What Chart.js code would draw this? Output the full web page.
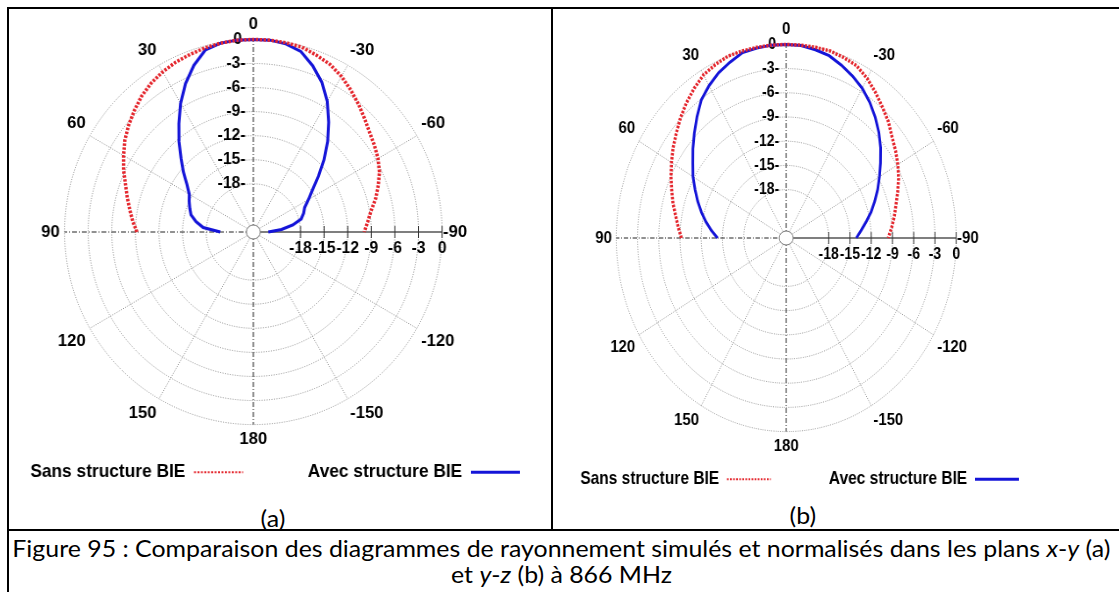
<!DOCTYPE html>
<html lang="fr">
<head>
<meta charset="utf-8">
<title>Figure 95</title>
<script src="https://cdn.jsdelivr.net/npm/chart.js@4.4.1/dist/chart.umd.min.js"></script>
<style>
  html, body { margin: 0; padding: 0; background: #fff; }
  #page { position: relative; width: 1119px; height: 592px; overflow: hidden; background: #fff; }
  .plot { position: absolute; transform-origin: 0 0; }
  .rule { position: absolute; background: #000; z-index: 2; }
  .txt { position: absolute; text-align: center; font-family: Lato, "Open Sans", sans-serif; font-size: 24px;
         line-height: 26px; color: #000; white-space: nowrap; }
  .txt span { display: inline-block; transform-origin: 50% 50%; }
</style>
</head>
<body>
<div id="page">
  <div class="plot"><canvas id="chartA" width="568" height="491"></canvas></div>
  <div class="plot"><canvas id="chartB" width="554" height="493"></canvas></div>

  <div class="rule" style="left:7px; top:7px; width:1112px; height:2px;"></div>
  <div class="rule" style="left:7px; top:7px; width:2px; height:585px;"></div>
  <div class="rule" style="left:551px; top:7px; width:2px; height:523px;"></div>
  <div class="rule" style="left:7px; top:529px; width:1112px; height:2px;"></div>

  <div class="txt" style="left:0; width:546px; top:505px;"><span>(a)</span></div>
  <div class="txt" style="left:553px; width:500px; top:502px;"><span>(b)</span></div>
  <div class="txt" id="cap1" style="left:0; width:1122px; top:535px;"><span>Figure 95 : Comparaison des diagrammes de rayonnement simulés et normalisés dans les plans <i>x</i>-<i>y</i> (a)</span></div>
  <div class="txt" style="left:0; width:1122px; top:561px;"><span>et <i>y</i>-<i>z</i> (b) à 866 MHz</span></div>
</div>

<script>
Chart.defaults.font.family = '"Liberation Sans", Arial, sans-serif';
Chart.defaults.color = '#000';

// directions of the readings (deg), from the right (-90) over the top (0) to the left (+90)
const halfAngles = [-90, -85, -80, -75, -70, -65, -60, -55, -50, -45, -40, -35, -30, -25, -20, -15, -10, -5, 0,
  5, 10, 15, 20, 25, 30, 35, 40, 45, 50, 55, 60, 65, 70, 75, 80, 85, 90];

// (a) plan x-y, normalised gain in dB
const sansA = [-9.9, -9.4, -8.8, -7.9, -7.1, -6.3, -5.7, -5.2, -4.7, -4.0, -3.2, -2.4, -1.6, -0.95, -0.55, -0.15, -0.05, 0, 0,
  0, -0.1, -0.25, -0.45, -0.65, -0.95, -1.35, -1.9, -2.6, -3.3, -4.05, -4.95, -5.8, -6.7, -7.4, -8.05, -8.6, -9.2];
const avecA = [-22.1, -20.4, -18.9, -17.7, -17.2, -16.8, -15.9, -14.8, -13.2, -11.3, -9.3, -7.3, -5.2, -3.4, -1.95, -0.7, -0.2, 0, 0,
  0, -0.1, -0.5, -1.9, -3.6, -5.5, -7.5, -9.3, -11.0, -12.4, -13.7, -14.6, -15.0, -15.4, -15.8, -16.6, -17.6, -19.8];

// (b) plan y-z
const sansB = [-9.6, -9.05, -8.5, -7.95, -7.25, -6.5, -5.8, -5.15, -4.5, -3.6, -2.85, -2.0, -1.15, -0.45, -0.2, 0, 0, 0, 0,
  0, 0, 0, 0, -0.3, -0.65, -1.35, -2.1, -2.9, -3.75, -4.5, -5.3, -6.05, -6.8, -7.45, -8.15, -8.7, -9.2];
const avecB = [-14.1, -13.4, -12.55, -11.6, -10.7, -9.75, -8.8, -7.75, -6.6, -5.5, -4.45, -3.45, -2.55, -1.85, -1.2, -0.6, -0.3, -0.05, 0,
  0, -0.1, -0.2, -0.8, -1.4, -2.2, -3.1, -4.4, -5.65, -6.8, -7.9, -8.8, -9.8, -10.7, -11.6, -12.5, -13.4, -14.3];

const ringTicks = [-18, -15, -12, -9, -6, -3, 0];
const seriesNames = ['Sans structure BIE', 'Avec structure BIE'];
const seriesColors = ['#e4262d', '#1414d8'];

// the radar goes clockwise from the top: 0, -5, ... -90, ... 180, ... 90, ... 5
const directions = [];
for (let i = 0; i < 72; i++) directions.push(i < 36 ? -5 * i : 360 - 5 * i);

function onCircle(values) {
  return directions.map(a => {
    const k = halfAngles.indexOf(a);
    return k < 0 ? null : values[k];
  });
}

const tickSize = 16;
const tickFont = 'bold ' + tickSize + 'px "Liberation Sans"';

// radial labels sit left of the vertical axis, so pad them on the right
const measure = document.createElement('canvas').getContext('2d');
measure.font = tickFont;
function tickText(v) {
  const txt = v + '-';
  const n = Math.round((measure.measureText(txt).width + 14) / measure.measureText('\u00A0').width);
  return txt + '\u00A0'.repeat(n);
}

function axisStyle(i) {
  const a = directions[i];
  if (a === -90) return { color: '#555', width: 1.5, dash: [] };
  if (a === 0 || a === 180 || a === 90) return { color: '#222', width: 1, dash: [5, 2, 1, 2] };
  if (a % 30 === 0) return { color: '#8c8c8c', width: 1, dash: [1, 1.5] };
  return { color: '', width: 0, dash: [] };
}

// ticks and labels on the -90 axis, and the small circle at the centre
const polarExtras = {
  id: 'polarExtras',
  beforeDatasetsDraw(chart) {
    const r = chart.scales.r;
    const ctx = chart.ctx;
    ctx.save();
    ctx.strokeStyle = '#333';
    ctx.lineWidth = 1;
    ctx.fillStyle = '#000';
    ctx.font = tickFont;
    ctx.textAlign = 'center';
    ctx.textBaseline = 'middle';
    ringTicks.forEach(v => {
      const x = r.xCenter + r.getDistanceFromCenterForValue(v);
      ctx.beginPath();
      ctx.moveTo(x, r.yCenter - 6);
      ctx.lineTo(x, r.yCenter + 6);
      ctx.stroke();
      ctx.fillText(String(v), x, r.yCenter + 17);
    });
    ctx.restore();
  },
  afterDatasetsDraw(chart, args, opts) {
    const r = chart.scales.r;
    const ctx = chart.ctx;
    ctx.save();
    ctx.beginPath();
    ctx.ellipse(r.xCenter, r.yCenter, 7 / opts.squeeze, 7, 0, 0, Math.PI * 2);
    ctx.fillStyle = '#fff';
    ctx.fill();
    ctx.strokeStyle = '#777';
    ctx.lineWidth = 1;
    ctx.stroke();
    ctx.restore();
  }
};

function makePolar(id, sans, avec, p) {
  const canvas = document.getElementById(id);
  const wrap = canvas.parentNode;
  wrap.style.left = (p.cx - canvas.width / 2 * p.squeeze) + 'px';
  wrap.style.top = p.top + 'px';
  wrap.style.transform = 'scaleX(' + p.squeeze + ')';

  return new Chart(canvas, {
    type: 'radar',
    data: {
      labels: directions.map(String),
      datasets: [
        { label: seriesNames[0], data: onCircle(sans), borderColor: seriesColors[0], backgroundColor: seriesColors[0],
          borderWidth: 3.5, borderDash: [2.5, 1.5] },
        { label: seriesNames[1], data: onCircle(avec), borderColor: seriesColors[1], backgroundColor: seriesColors[1],
          borderWidth: 3 }
      ]
    },
    options: {
      responsive: false,
      animation: false,
      events: [],
      devicePixelRatio: 1,
      layout: { padding: { top: 14 } },
      elements: {
        point: { radius: 0, hitRadius: 0 },
        line: { fill: false, tension: 0 }
      },
      spanGaps: false,
      scales: {
        r: {
          min: -24,
          max: 0,
          grid: {
            circular: true,
            color: c => (c.tick && c.tick.value >= -18 ? '#8c8c8c' : ''),
            lineWidth: 1
          },
          border: { dash: [1, 1.5] },
          angleLines: {
            color: c => axisStyle(c.index).color,
            lineWidth: c => axisStyle(c.index).width,
            borderDash: c => axisStyle(c.index).dash
          },
          ticks: {
            stepSize: 3,
            showLabelBackdrop: false,
            backdropPadding: 0,
            color: '#000',
            font: { size: tickSize, weight: 'bold' },
            callback: v => (v >= -18 ? tickText(v) : '')
          },
          pointLabels: {
            // chart.js adds half the tick font size to this distance
            padding: c => (directions[c.index] === -90 ? -7 : -3),
            color: '#000',
            font: { size: 17, weight: 'bold' },
            callback: lbl => (Number(lbl) % 30 === 0 ? lbl : '')
          }
        }
      },
      plugins: {
        legend: {
          position: 'bottom',
          align: 'start',
          rtl: true,
          reverse: true,
          textDirection: 'ltr',
          labels: {
            usePointStyle: true,
            pointStyle: 'line',
            pointStyleWidth: 50,
            padding: 12,
            color: '#000',
            font: { size: 17.7, weight: 'bold' },
            generateLabels(chart) {
              return chart.data.datasets.map((ds, i) => ({
                text: (i === 1 ? '\u00A0'.repeat(11) : '') + ds.label,
                datasetIndex: i,
                fillStyle: ds.borderColor,
                strokeStyle: ds.borderColor,
                fontColor: '#000',
                lineWidth: i === 0 ? 2 : 3,
                lineDash: i === 0 ? [2, 1.5] : [],
                pointStyle: 'line',
                hidden: false
              }));
            }
          }
        },
        tooltip: { enabled: false },
        polarExtras: { squeeze: p.squeeze }
      }
    },
    plugins: [polarExtras]
  });
}

makePolar('chartA', sansA, avecA, { cx: 253, top: 0, squeeze: 0.98 });
makePolar('chartB', sansB, avecB, { cx: 786.2, top: 5, squeeze: 0.878 });

// caption set in the width of the original line
const cap = document.querySelector('#cap1 span');
const k = 1098 / cap.getBoundingClientRect().width;
document.querySelectorAll('.txt span').forEach(s => { s.style.transform = 'scaleX(' + k + ')'; });
</script>
</body>
</html>
